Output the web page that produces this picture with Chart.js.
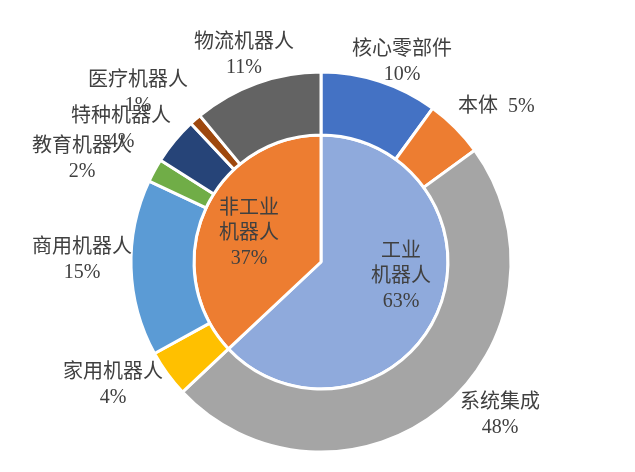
<!DOCTYPE html>
<html>
<head>
<meta charset="utf-8">
<script src="https://cdn.jsdelivr.net/npm/chart.js@4/dist/chart.umd.min.js"></script>
<style>
  html, body { margin: 0; padding: 0; background: #fff; }
  #wrap { width: 635px; height: 472px; }
</style>
</head>
<body>
<div id="wrap"><canvas id="robotPie"></canvas></div>
<script>
// outer ring: segments
const outerLabels = ['核心零部件', '本体', '系统集成', '家用机器人', '商用机器人', '教育机器人', '特种机器人', '医疗机器人', '物流机器人'];
const outerValues = [10, 5, 48, 4, 15, 2, 4, 1, 11];
const outerColors = ['#4472C4', '#ED7D31', '#A5A5A5', '#FFC000', '#5B9BD5', '#70AD47', '#264478', '#9E480E', '#636363'];

// inner pie: industrial vs non-industrial
const innerLabels = ['工业机器人', '非工业机器人'];
const innerValues = [63, 37];
const innerColors = ['#8FAADC', '#ED7D31'];

// where each label sits, relative to the chart centre (first line centre)
const outerLabelPos = [
    { dx: 81, dy: -212 },
    { dx: 137, dy: -155, inline: true },
    { dx: 179, dy: 141 },
    { dx: -208, dy: 111 },
    { dx: -239, dy: -14 },
    { dx: -239, dy: -115 },
    { dx: -200, dy: -145 },
    { dx: -183, dy: -181 },
    { dx: -77, dy: -219 }
];
const innerLabelPos = [
    { dx: 80, dy: -10, lines: ['工业', '机器人'] },
    { dx: -72, dy: -53, lines: ['非工业', '机器人'] }
];

const labelFont = '20px "Liberation Serif", "Noto Sans CJK SC", sans-serif';
const lineGap = 25;

// draws the data labels after the arcs
const pieLabels = {
    id: 'pieLabels',
    afterDatasetsDraw(chart) {
        const ctx = chart.ctx;
        const arc0 = chart.getDatasetMeta(0).data[0];
        const cx = arc0.x, cy = arc0.y;
        ctx.save();
        ctx.font = labelFont;
        ctx.fillStyle = '#404040';
        ctx.textBaseline = 'middle';

        outerLabels.forEach((name, i) => {
            const p = outerLabelPos[i];
            const pct = outerValues[i] + '%';
            if (p.inline) {
                ctx.textAlign = 'left';
                ctx.fillText(name + '  ' + pct, cx + p.dx, cy + p.dy);
            } else {
                ctx.textAlign = 'center';
                ctx.fillText(name, cx + p.dx, cy + p.dy);
                ctx.fillText(pct, cx + p.dx, cy + p.dy + lineGap);
            }
        });

        ctx.textAlign = 'center';
        innerLabels.forEach((name, i) => {
            const p = innerLabelPos[i];
            const lines = p.lines.concat([innerValues[i] + '%']);
            lines.forEach((t, k) => ctx.fillText(t, cx + p.dx, cy + p.dy + k * lineGap));
        });
        ctx.restore();
    }
};

new Chart(document.getElementById('robotPie'), {
    type: 'doughnut',
    data: {
        labels: outerLabels,
        datasets: [
            {
                label: '细分',
                data: outerValues,
                backgroundColor: outerColors,
                borderColor: '#ffffff',
                borderWidth: 3,
                weight: 63
            },
            {
                label: '大类',
                data: innerValues,
                backgroundColor: innerColors,
                borderColor: '#ffffff',
                borderWidth: 3,
                weight: 127
            }
        ]
    },
    options: {
        responsive: true,
        maintainAspectRatio: false,
        animation: false,
        cutout: 0,
        layout: {
            padding: { left: 129.5, right: 122.5, top: 70.5, bottom: 18.5 }
        },
        plugins: {
            legend: { display: false },
            tooltip: { enabled: false }
        }
    },
    plugins: [pieLabels]
});
</script>
</body>
</html>
